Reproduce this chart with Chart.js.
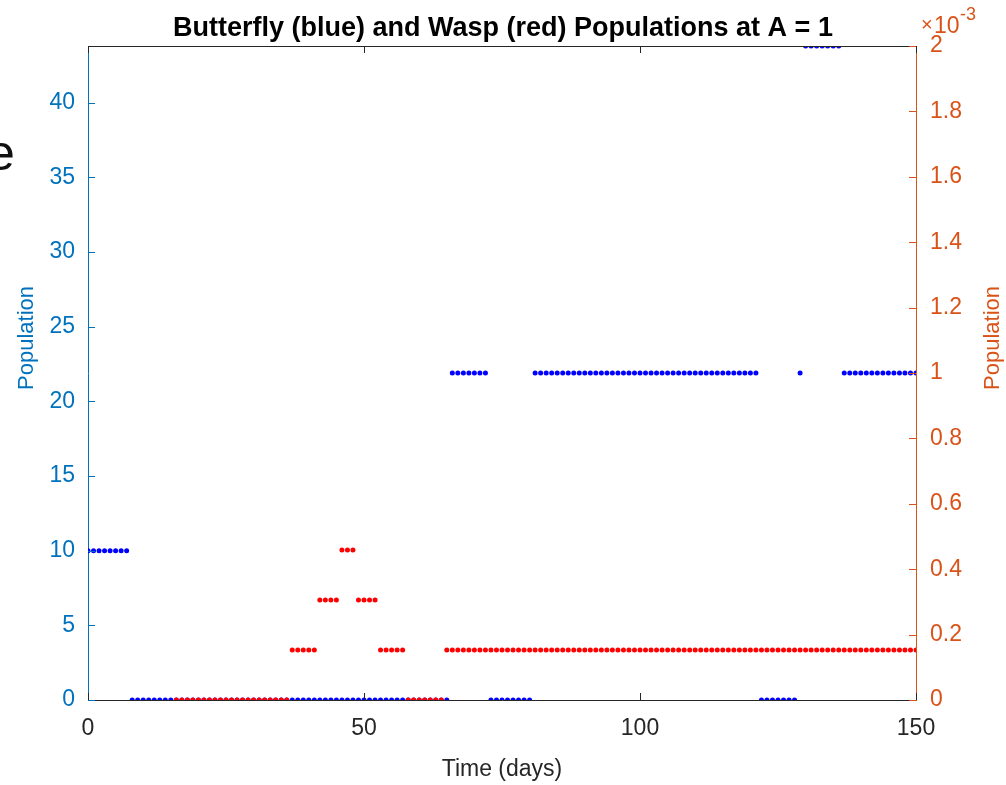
<!DOCTYPE html>
<html>
<head>
<meta charset="utf-8">
<script src="https://cdn.jsdelivr.net/npm/chart.js@4.4.1/dist/chart.umd.min.js"></script>
<style>
  body { margin: 0; background: #fff; }
  #wrap { position: relative; width: 1006px; height: 785px; overflow: hidden; }
  #cut { position: absolute; left: -13px; top: 128px; font: 50px "Liberation Sans", Arial, sans-serif; line-height: 50px; color: #111; }
</style>
</head>
<body>
<div id="wrap">
  <canvas id="chart" width="1006" height="785"></canvas>
  <div id="cut">e</div>
</div>
<script>
// one sample per day, day 0 .. 150
const butterfly = [
  10, 10, 10, 10, 10, 10, 10, 10, 0, 0,                 // 0-9
  0, 0, 0, 0, 0, 0, 0, 0, 0, 0,                         // 10-19
  0, 0, 0, 0, 0, 0, 0, 0, 0, 0,                         // 20-29
  0, 0, 0, 0, 0, 0, 0, 0, 0, 0,                         // 30-39
  0, 0, 0, 0, 0, 0, 0, 0, 0, 0,                         // 40-49
  0, 0, 0, 0, 0, 0, 0, 0, 0, 0,                         // 50-59
  0, 0, 0, 0, 0, 0, 21.9, 21.9, 21.9, 21.9,             // 60-69
  21.9, 21.9, 21.9, 0, 0, 0, 0, 0, 0, 0,                // 70-79
  0, 21.9, 21.9, 21.9, 21.9, 21.9, 21.9, 21.9, 21.9, 21.9, // 80-89
  21.9, 21.9, 21.9, 21.9, 21.9, 21.9, 21.9, 21.9, 21.9, 21.9, // 90-99
  21.9, 21.9, 21.9, 21.9, 21.9, 21.9, 21.9, 21.9, 21.9, 21.9, // 100-109
  21.9, 21.9, 21.9, 21.9, 21.9, 21.9, 21.9, 21.9, 21.9, 21.9, // 110-119
  21.9, 21.9, 0, 0, 0, 0, 0, 0, 0, 21.9,                // 120-129
  43.8, 43.8, 43.8, 43.8, 43.8, 43.8, 43.8, 21.9, 21.9, 21.9, // 130-139
  21.9, 21.9, 21.9, 21.9, 21.9, 21.9, 21.9, 21.9, 21.9, 21.9, // 140-149
  21.9                                                  // 150
];

// wasp population in units of 1e-3 (right axis)
const wasp = [
  null, null, null, null, null, null, null, null, null, null, // 0-9
  null, null, null, null, null, null, 0, 0, 0, 0,             // 10-19
  0, 0, 0, 0, 0, 0, 0, 0, 0, 0,                               // 20-29
  0, 0, 0, 0, 0, 0, 0, 0.153, 0.153, 0.153,                   // 30-39
  0.153, 0.153, 0.306, 0.306, 0.306, 0.306, 0.459, 0.459, 0.459, 0.306, // 40-49
  0.306, 0.306, 0.306, 0.153, 0.153, 0.153, 0.153, 0.153, 0, 0, // 50-59
  0, 0, 0, 0, 0, 0.153, 0.153, 0.153, 0.153, 0.153,           // 60-69
  0.153, 0.153, 0.153, 0.153, 0.153, 0.153, 0.153, 0.153, 0.153, 0.153, // 70-79
  0.153, 0.153, 0.153, 0.153, 0.153, 0.153, 0.153, 0.153, 0.153, 0.153, // 80-89
  0.153, 0.153, 0.153, 0.153, 0.153, 0.153, 0.153, 0.153, 0.153, 0.153, // 90-99
  0.153, 0.153, 0.153, 0.153, 0.153, 0.153, 0.153, 0.153, 0.153, 0.153, // 100-109
  0.153, 0.153, 0.153, 0.153, 0.153, 0.153, 0.153, 0.153, 0.153, 0.153, // 110-119
  0.153, 0.153, 0.153, 0.153, 0.153, 0.153, 0.153, 0.153, 0.153, 0.153, // 120-129
  0.153, 0.153, 0.153, 0.153, 0.153, 0.153, 0.153, 0.153, 0.153, 0.153, // 130-139
  0.153, 0.153, 0.153, 0.153, 0.153, 0.153, 0.153, 0.153, 0.153, 0.153, // 140-149
  0.153                                                       // 150
];

const xTicks = [0, 50, 100, 150];
const leftTicks = [0, 5, 10, 15, 20, 25, 30, 35, 40];
const rightTicks = [0, 0.2, 0.4, 0.6, 0.8, 1, 1.2, 1.4, 1.6, 1.8, 2];

const FONT = '"Liberation Sans", Arial, sans-serif';
const BLUE_AX = '#0072BD';
const ORANGE_AX = '#D95319';
const DARK = '#262626';

const toPoints = arr => arr.map((v, i) => ({ x: i, y: v }));

function vLabel(ctx, text, x, y, color) {
  ctx.save();
  ctx.fillStyle = color;
  ctx.font = '22px ' + FONT;
  ctx.textAlign = 'center';
  ctx.textBaseline = 'middle';
  ctx.translate(x, y);
  ctx.rotate(-Math.PI / 2);
  ctx.fillText(text, 0, 0);
  ctx.restore();
}

// inward tick marks, top border, y labels and exponent, matlab style
const matlabAxes = {
  id: 'matlabAxes',
  afterDraw(chart) {
    const { ctx, chartArea: a, scales } = chart;
    const len = 7;
    ctx.save();
    ctx.lineWidth = 1;

    ctx.strokeStyle = DARK;
    ctx.beginPath();
    ctx.moveTo(a.left, a.top + 0.5);
    ctx.lineTo(a.right, a.top + 0.5);
    xTicks.forEach(v => {
      const px = Math.round(scales.x.getPixelForValue(v)) + 0.5;
      ctx.moveTo(px, a.bottom);
      ctx.lineTo(px, a.bottom - len);
      ctx.moveTo(px, a.top);
      ctx.lineTo(px, a.top + len);
    });
    ctx.stroke();

    ctx.strokeStyle = BLUE_AX;
    ctx.beginPath();
    leftTicks.forEach(v => {
      const py = Math.round(scales.y.getPixelForValue(v)) + 0.5;
      ctx.moveTo(a.left, py);
      ctx.lineTo(a.left + len, py);
    });
    ctx.stroke();

    ctx.strokeStyle = ORANGE_AX;
    ctx.beginPath();
    rightTicks.forEach(v => {
      const py = Math.round(scales.y2.getPixelForValue(v)) + 0.5;
      ctx.moveTo(a.right, py);
      ctx.lineTo(a.right - len, py);
    });
    ctx.stroke();
    ctx.restore();

    vLabel(ctx, 'Population', 27, 338, BLUE_AX);
    vLabel(ctx, 'Population', 993, 338, ORANGE_AX);

    // exponent
    ctx.save();
    ctx.fillStyle = ORANGE_AX;
    ctx.textBaseline = 'alphabetic';
    ctx.textAlign = 'left';
    ctx.font = '20px ' + FONT;
    ctx.fillText('\u00d7', 921, 31);
    ctx.font = '23px ' + FONT;
    ctx.fillText('10', 934, 33);
    ctx.font = '18px ' + FONT;
    ctx.fillText('-3', 960, 20);
    ctx.restore();
  }
};

new Chart(document.getElementById('chart'), {
  type: 'scatter',
  data: {
    datasets: [
      {
        label: 'Wasp',
        data: toPoints(wasp),
        yAxisID: 'y2',
        backgroundColor: '#FF0000',
        borderColor: '#FF0000',
        pointRadius: 2.5,
        pointBorderWidth: 0,
        clip: 0,
        order: 0
      },
      {
        label: 'Butterfly',
        data: toPoints(butterfly),
        yAxisID: 'y',
        backgroundColor: '#0000FF',
        borderColor: '#0000FF',
        pointRadius: 2.5,
        pointBorderWidth: 0,
        clip: 0,
        order: 1
      }
    ]
  },
  options: {
    responsive: false,
    animation: false,
    devicePixelRatio: 1,
    layout: { padding: 0, autoPadding: false },
    plugins: {
      legend: { display: false },
      tooltip: { enabled: false },
      title: {
        display: true,
        text: 'Butterfly (blue) and Wasp (red) Populations at A = 1',
        color: '#000',
        font: { family: FONT, size: 27, weight: 'bold' },
        padding: { top: 12, bottom: 1.6 }
      }
    },
    scales: {
      x: {
        type: 'linear',
        min: 0,
        max: 150,
        afterBuildTicks: s => { s.ticks = xTicks.map(v => ({ value: v })); },
        afterFit: s => { s.height = 85; },
        grid: { display: false, drawTicks: false },
        border: { display: true, color: DARK, width: 1 },
        ticks: { color: DARK, padding: 15, maxRotation: 0, font: { family: FONT, size: 23 } },
        title: {
          display: true,
          text: 'Time (days)',
          color: DARK,
          font: { family: FONT, size: 23 },
          padding: { top: 0, bottom: 1.2 }
        }
      },
      y: {
        type: 'linear',
        position: 'left',
        min: 0,
        max: 43.8,
        afterBuildTicks: s => { s.ticks = leftTicks.map(v => ({ value: v })); },
        afterFit: s => { s.width = 88; },
        grid: { display: false, drawTicks: false },
        border: { display: true, color: BLUE_AX, width: 1 },
        ticks: { color: BLUE_AX, padding: 13, font: { family: FONT, size: 23 } }
      },
      y2: {
        type: 'linear',
        position: 'right',
        min: 0,
        max: 2,
        afterBuildTicks: s => { s.ticks = rightTicks.map(v => ({ value: v })); },
        afterFit: s => { s.width = 90; },
        grid: { display: false, drawTicks: false },
        border: { display: true, color: ORANGE_AX, width: 1 },
        ticks: {
          color: ORANGE_AX,
          padding: 14,
          font: { family: FONT, size: 23 },
          callback: v => String(Math.round(v * 10) / 10)
        }
      }
    }
  },
  plugins: [matlabAxes]
});
</script>
</body>
</html>
